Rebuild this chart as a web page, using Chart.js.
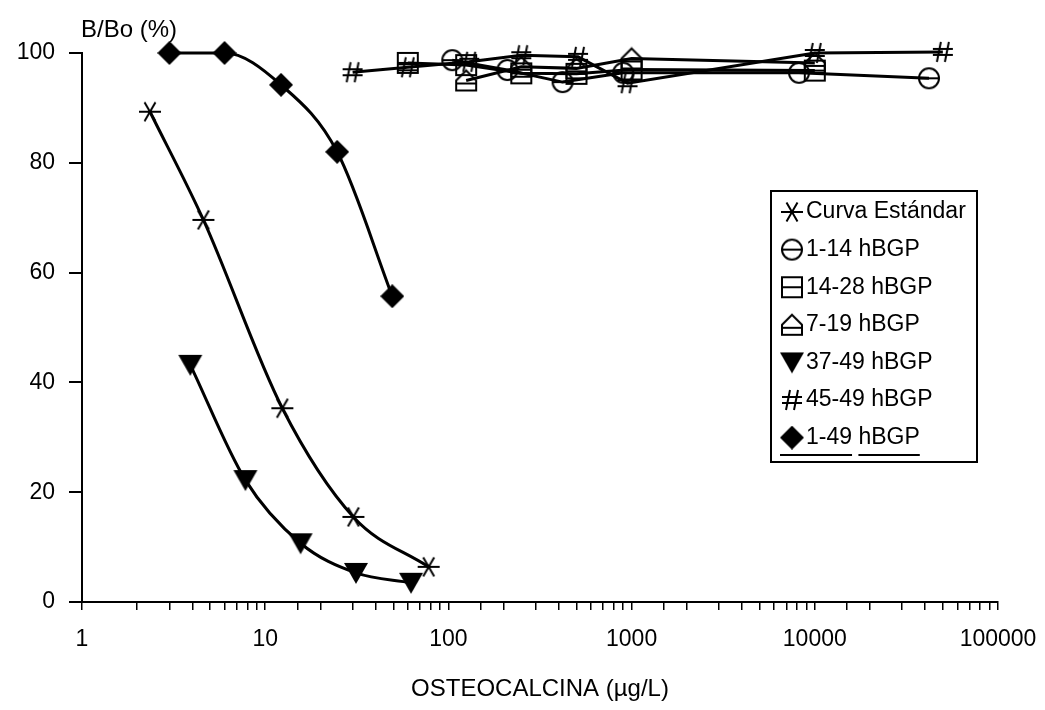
<!DOCTYPE html>
<html>
<head>
<meta charset="utf-8">
<script src="https://cdn.jsdelivr.net/npm/chart.js@4"></script>
<style>
  body { margin: 0; background: #fff; }
  #wrap { width: 1045px; height: 710px; }
</style>
</head>
<body>
<div id="wrap"><canvas id="chart"></canvas></div>
<script>
// data (x in ug/L, y in B/Bo %)
const stdX = [2.35, 4.6, 12.4, 30.3, 78];
const stdY = [89.3, 69.6, 35.3, 15.5, 6.4];
const h1_14X = [105, 210, 420, 900, 8200, 42000];
const h1_14Y = [98.7, 96.9, 94.7, 96.4, 96.4, 95.4];
const h14_28X = [60, 125, 250, 500, 1000, 10000];
const h14_28Y = [98.2, 97.8, 96.3, 96.2, 97, 96.8];
const h7_19X = [125, 250, 500, 1000, 10000];
const h7_19Y = [95, 97.5, 97.2, 99, 98.2];
const h37_49X = [3.9, 7.8, 15.6, 31.3, 62.5];
const h37_49Y = [43.2, 22.2, 10.7, 5.3, 3.5];
const h45_49X = [30, 60, 130, 250, 510, 950, 10000, 50000];
const h45_49Y = [96.5, 97.4, 98.4, 99.6, 99.3, 94.5, 100, 100.2];
const h1_49X = [3, 6, 12.2, 24.7, 49.4];
const h1_49Y = [100, 100, 94.2, 82, 55.7];

const labels = ['Curva Estándar', '1-14 hBGP', '14-28 hBGP', '7-19 hBGP', '37-49 hBGP', '45-49 hBGP', '1-49 hBGP'];
const yTicks = [0, 20, 40, 60, 80, 100];

const FONT = '"Liberation Sans", Arial, sans-serif';

// marker canvases
function mk(w, h, draw) {
    const c = document.createElement('canvas');
    c.width = w; c.height = h;
    const ctx = c.getContext('2d');
    ctx.strokeStyle = '#000';
    ctx.fillStyle = '#000';
    ctx.lineWidth = 2;
    draw(ctx, w, h);
    return c;
}
const mStar = mk(24, 24, (c) => {
    c.beginPath();
    for (const a of [0, 60, 120]) {
        const r = a * Math.PI / 180;
        c.moveTo(12 - 11 * Math.cos(r), 12 - 11 * Math.sin(r));
        c.lineTo(12 + 11 * Math.cos(r), 12 + 11 * Math.sin(r));
    }
    c.stroke();
});
const mCircle = mk(24, 24, (c) => {
    c.beginPath(); c.arc(12, 12, 10, 0, Math.PI * 2); c.stroke();
    c.beginPath(); c.moveTo(2, 12); c.lineTo(22, 12); c.stroke();
});
const mSquare = mk(24, 24, (c) => {
    c.strokeRect(2, 2, 20, 20);
    c.beginPath(); c.moveTo(2, 12); c.lineTo(22, 12); c.stroke();
});
const mTri = mk(24, 24, (c) => {
    c.beginPath(); c.moveTo(12, 2); c.lineTo(22, 12); c.lineTo(22, 22); c.lineTo(2, 22); c.lineTo(2, 12); c.closePath(); c.stroke();
    c.beginPath(); c.moveTo(2, 15); c.lineTo(22, 15); c.stroke();
});
const mDown = mk(26, 24, (c) => {
    c.beginPath(); c.moveTo(1, 2); c.lineTo(25, 2); c.lineTo(13, 23); c.closePath(); c.fill();
});
const mHash = mk(22, 22, (c) => {
    c.beginPath();
    c.moveTo(9, 1); c.lineTo(5, 21);
    c.moveTo(17, 1); c.lineTo(13, 21);
    c.moveTo(1, 8); c.lineTo(21, 8);
    c.moveTo(1, 14); c.lineTo(21, 14);
    c.stroke();
});
const mDiamond = mk(24, 24, (c) => {
    c.beginPath(); c.moveTo(12, 0); c.lineTo(24, 12); c.lineTo(12, 24); c.lineTo(0, 12); c.closePath(); c.fill();
});

function pts(xs, ys) {
    return xs.map((x, i) => ({ x: x, y: ys[i] }));
}
function series(label, xs, ys, marker, smooth) {
    return {
        label: label,
        data: pts(xs, ys),
        borderColor: '#000',
        borderWidth: 3,
        pointStyle: marker,
        pointRadius: 10,
        cubicInterpolationMode: smooth ? 'monotone' : 'default',
        tension: 0,
        clip: false,
        fill: false
    };
}

const legendBox = {
    id: 'legendBox',
    afterDraw(chart) {
        const ctx = chart.ctx;
        const ca = chart.chartArea;
        ctx.save();
        // y axis title
        ctx.fillStyle = '#000';
        ctx.font = '24px ' + FONT;
        ctx.textBaseline = 'alphabetic';
        ctx.textAlign = 'left';
        ctx.fillText('B/Bo (%)', ca.left - 1, 37);

        // legend box
        const left = 771, top = 191, right = 977, bottom = 462;
        ctx.strokeStyle = '#000';
        ctx.lineWidth = 2;
        ctx.strokeRect(left, top, right - left, bottom - top);
        ctx.font = '23px ' + FONT;
        ctx.textBaseline = 'middle';
        chart.data.datasets.forEach((ds, i) => {
            const y = 212 + i * 37.6;
            const img = ds.pointStyle;
            ctx.drawImage(img, 792 - img.width / 2, y - img.height / 2);
            ctx.fillText(ds.label, 806, y);
            if (i === chart.data.datasets.length - 1) {
                const w1 = ctx.measureText('1-49').width;
                const w2 = ctx.measureText('1-49 ').width;
                const w3 = ctx.measureText(ds.label).width;
                ctx.lineWidth = 2;
                ctx.beginPath();
                ctx.moveTo(780, 455); ctx.lineTo(806 + w1, 455);
                ctx.moveTo(806 + w2, 455); ctx.lineTo(806 + w3, 455);
                ctx.stroke();
            }
        });
        ctx.restore();
    }
};

const chart = new Chart(document.getElementById('chart'), {
    type: 'line',
    data: {
        datasets: [
            series(labels[0], stdX, stdY, mStar, true),
            series(labels[1], h1_14X, h1_14Y, mCircle, false),
            series(labels[2], h14_28X, h14_28Y, mSquare, false),
            series(labels[3], h7_19X, h7_19Y, mTri, false),
            series(labels[4], h37_49X, h37_49Y, mDown, true),
            series(labels[5], h45_49X, h45_49Y, mHash, false),
            series(labels[6], h1_49X, h1_49Y, mDiamond, true)
        ]
    },
    options: {
        responsive: true,
        maintainAspectRatio: false,
        animation: false,
        layout: { padding: { top: 53, right: 47, left: 0, bottom: 0 } },
        plugins: {
            legend: { display: false },
            tooltip: { enabled: false }
        },
        scales: {
            x: {
                type: 'logarithmic',
                min: 1,
                max: 100000,
                afterFit: (s) => { s.height = 108; s.paddingLeft = 0; s.paddingRight = 0; },
                border: { display: true, color: '#000', width: 2 },
                grid: { drawOnChartArea: false, color: '#000', lineWidth: 1.5, tickLength: 8 },
                ticks: {
                    autoSkip: false,
                    maxRotation: 0,
                    padding: 16,
                    color: '#000',
                    font: { family: FONT, size: 23 },
                    callback: (v) => {
                        const l = Math.log10(v);
                        return Math.abs(l - Math.round(l)) < 1e-9 ? String(v) : '';
                    }
                },
                title: {
                    display: true,
                    text: 'OSTEOCALCINA (µg/L)',
                    color: '#000',
                    font: { family: FONT, size: 24 },
                    padding: { top: 0, bottom: 6 }
                }
            },
            y: {
                min: 0,
                max: 100,
                afterFit: (s) => { s.width = 82; },
                afterBuildTicks: (s) => { s.ticks = yTicks.map(v => ({ value: v })); },
                border: { display: true, color: '#000', width: 2 },
                grid: { drawOnChartArea: false, color: '#000', lineWidth: 2, tickLength: 13 },
                ticks: {
                    padding: 14,
                    color: '#000',
                    font: { family: FONT, size: 23 }
                }
            }
        }
    },
    plugins: [legendBox]
});
</script>
</body>
</html>
